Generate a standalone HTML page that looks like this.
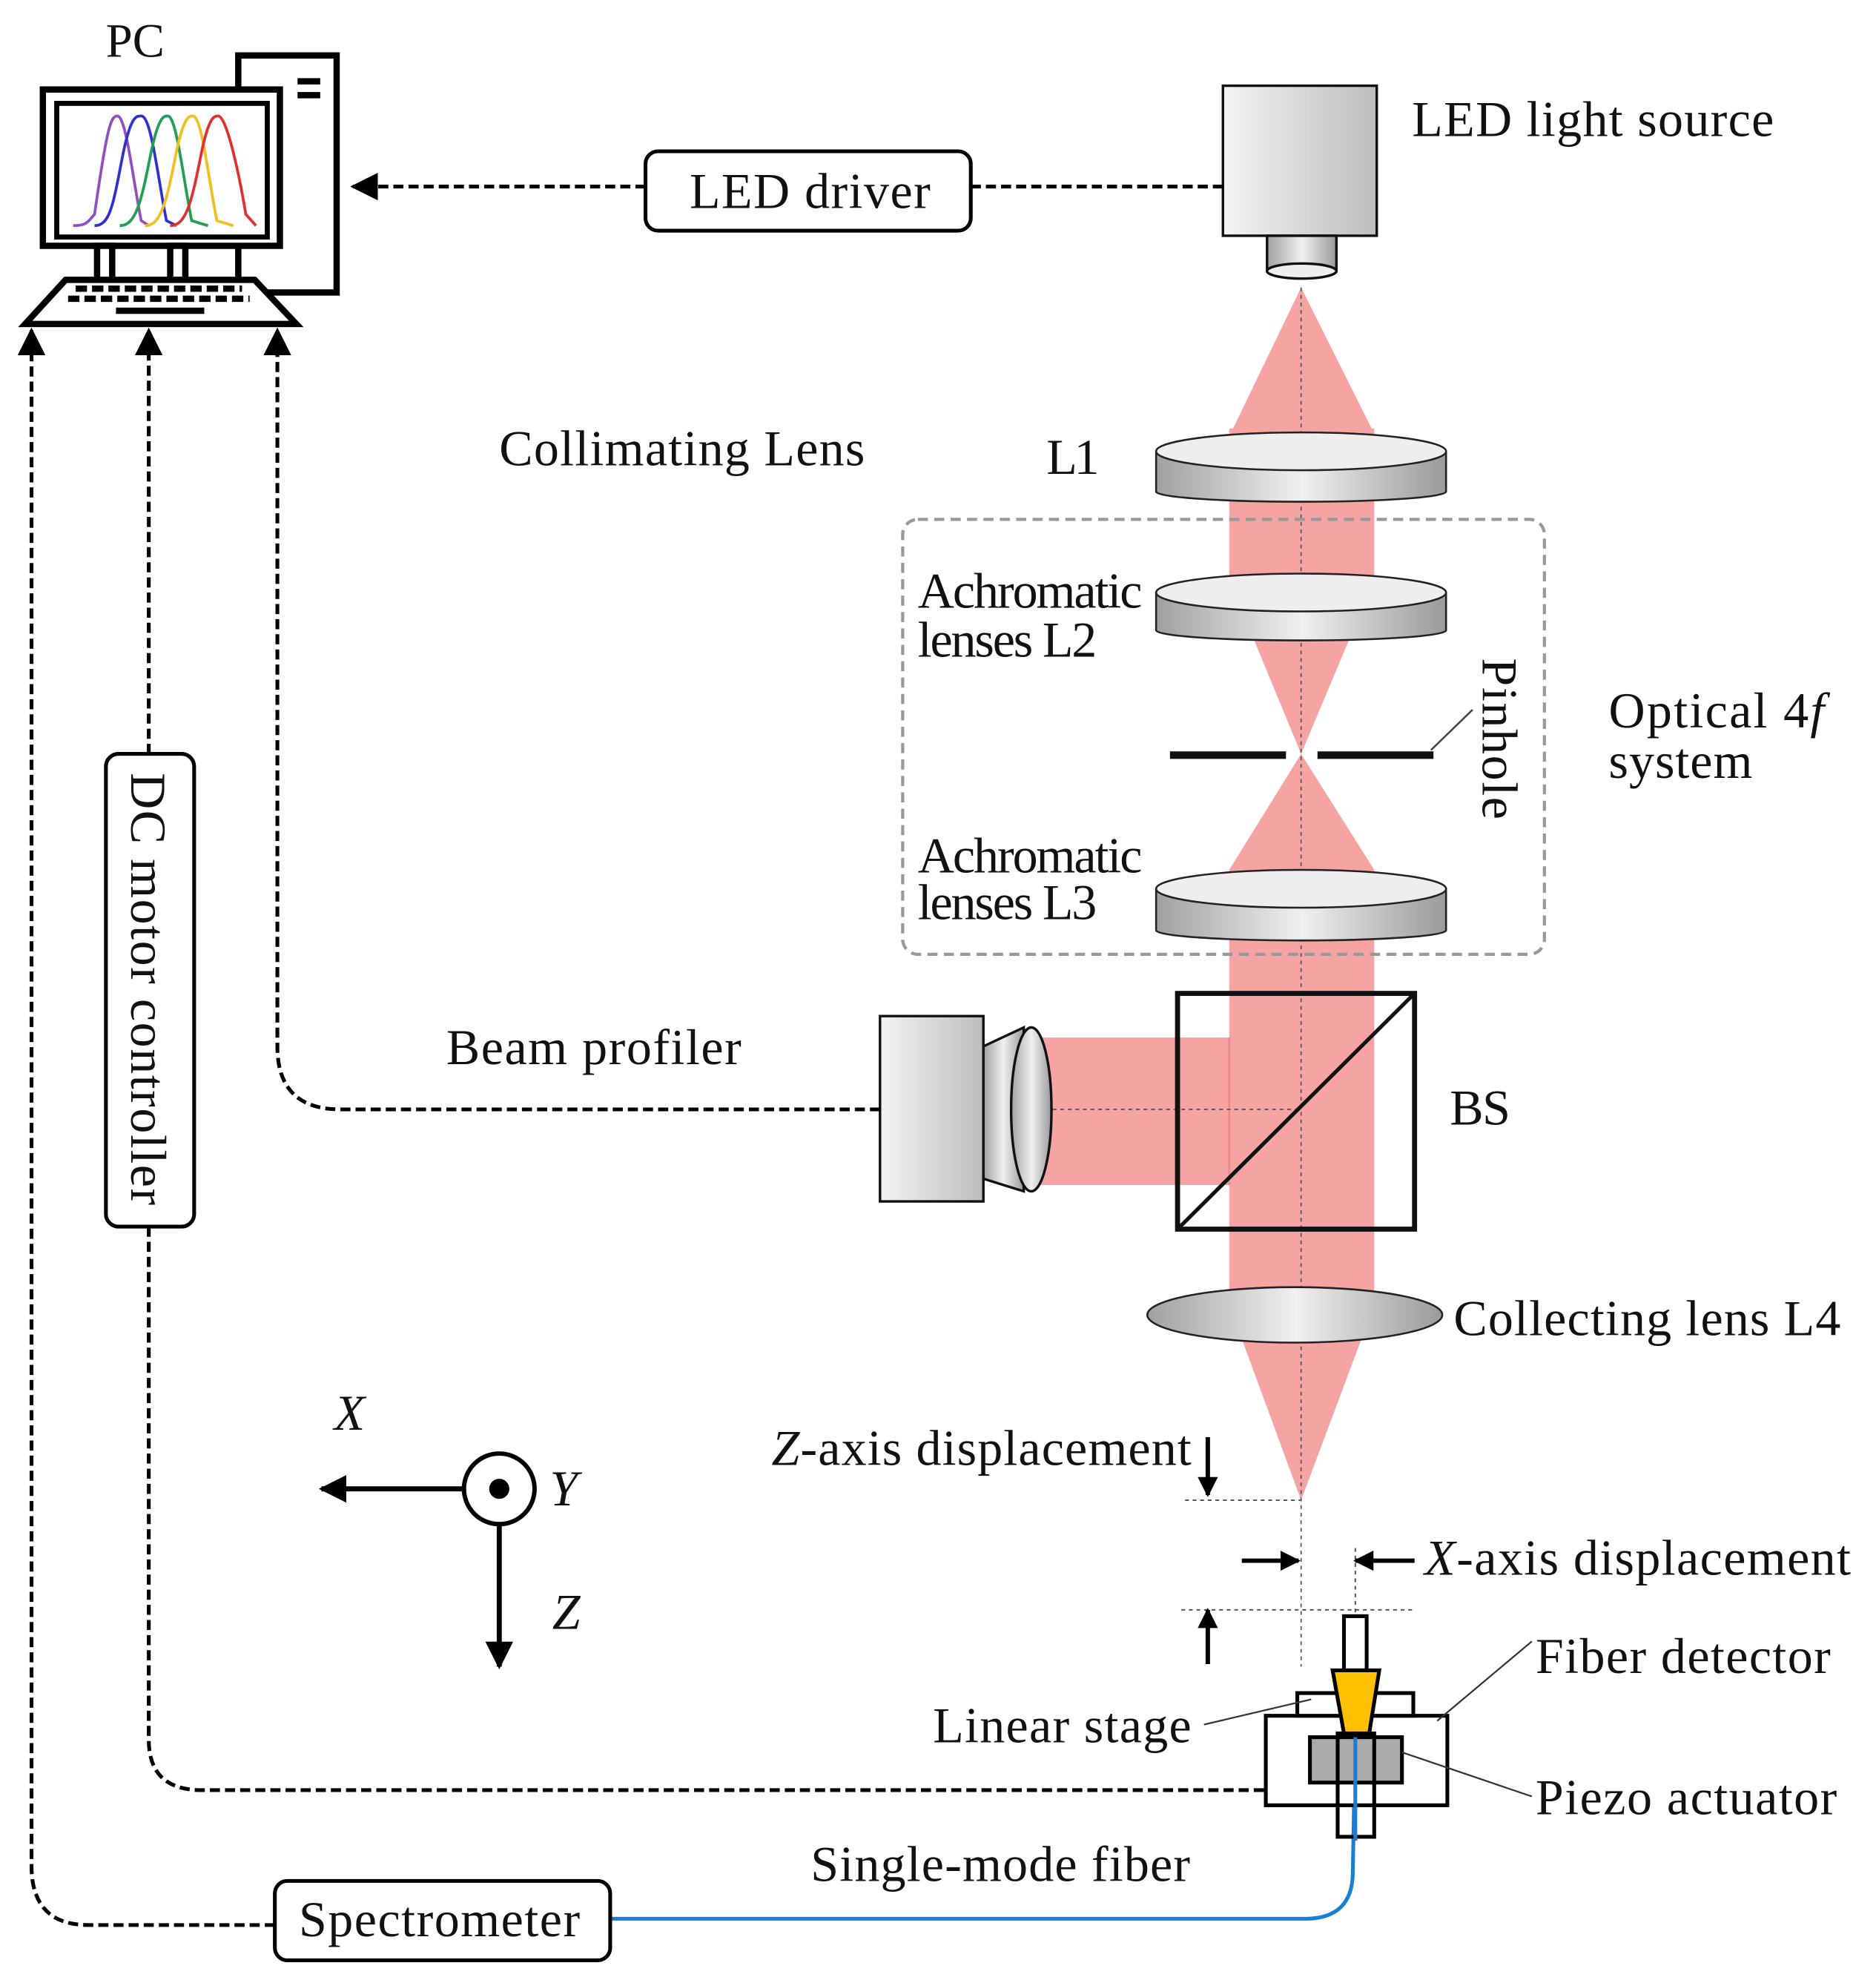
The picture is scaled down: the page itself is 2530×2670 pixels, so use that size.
<!DOCTYPE html>
<html><head><meta charset="utf-8"><style>html,body{margin:0;padding:0;background:#fff}svg{display:block}text{font-family:"Liberation Serif",serif;fill:#111}</style></head><body>
<svg width="2530" height="2670" viewBox="0 0 1488 1570.6" preserveAspectRatio="none" xmlns="http://www.w3.org/2000/svg">
<defs>
<linearGradient id="gg" x1="0" x2="1"><stop offset="0" stop-color="#f4f4f4"/><stop offset="1" stop-color="#bdbdbd"/></linearGradient>
<linearGradient id="gl" x1="0" x2="1"><stop offset="0" stop-color="#a0a0a0"/><stop offset="0.5" stop-color="#f0f0f0"/><stop offset="1" stop-color="#9a9a9a"/></linearGradient>
<marker id="ab" viewBox="0 0 10 10" refX="9" refY="5" markerWidth="22" markerHeight="22" orient="auto" markerUnits="userSpaceOnUse"><path d="M0,0 L10,5 L0,10z" fill="#000"/></marker>
<marker id="am" viewBox="0 0 10 10" refX="9" refY="5" markerWidth="16" markerHeight="16" orient="auto" markerUnits="userSpaceOnUse"><path d="M0,0 L10,5 L0,10z" fill="#000"/></marker>
</defs>
<g fill="#f5a3a3">
<polygon points="1032,228 978,340 1088,340"/>
<rect x="975" y="340" width="115" height="120"/>
<polygon points="975,460 1090,460 1032,598"/>
<polygon points="1032,598 975,690 1090,690"/>
<rect x="975" y="690" width="115" height="345"/>
<polygon points="975,1035 1090,1035 1032,1190"/>
<rect x="825" y="823" width="150" height="117"/>
</g>
<line x1="975" y1="823" x2="975" y2="940" stroke="#e88" stroke-width="1.5"/>
<line x1="1032" y1="228" x2="1032" y2="1322" stroke="#555" stroke-width="1" stroke-dasharray="3,3"/>
<line x1="835" y1="880" x2="1032" y2="880" stroke="#555" stroke-width="1" stroke-dasharray="3,3"/>
<rect x="970" y="68" width="122" height="119" fill="url(#gg)" stroke="#111" stroke-width="2"/>
<rect x="1005" y="187" width="55" height="28" fill="url(#gl)" stroke="#111" stroke-width="2"/>
<ellipse cx="1032.5" cy="215" rx="27.5" ry="6" fill="#eee" stroke="#111" stroke-width="2"/>
<g stroke="#222" stroke-width="1.5">
<path d="M917,358 L917,390 A115,8 0 0 0 1147,390 L1147,358z" fill="url(#gl)"/>
<ellipse cx="1032" cy="358" rx="115" ry="15" fill="#eee"/>
<path d="M917,470 L917,500 A115,8 0 0 0 1147,500 L1147,470z" fill="url(#gl)"/>
<ellipse cx="1032" cy="470" rx="115" ry="15" fill="#eee"/>
<path d="M917,705 L917,738 A115,8 0 0 0 1147,738 L1147,705z" fill="url(#gl)"/>
<ellipse cx="1032" cy="705" rx="115" ry="15" fill="#eee"/>
<ellipse cx="1027" cy="1043" rx="117" ry="22" fill="url(#gl)"/>
</g>
<rect x="716" y="412" width="509" height="345" rx="12" fill="none" stroke="#999" stroke-width="2.5" stroke-dasharray="8,5"/>
<line x1="928" y1="599" x2="1020" y2="599" stroke="#111" stroke-width="6"/>
<line x1="1045" y1="599" x2="1137" y2="599" stroke="#111" stroke-width="6"/>
<line x1="1135" y1="595" x2="1168" y2="563" stroke="#444" stroke-width="1.5"/>
<rect x="934" y="788" width="188" height="187" fill="none" stroke="#111" stroke-width="4"/>
<line x1="934" y1="975" x2="1122" y2="788" stroke="#111" stroke-width="3"/>
<rect x="698" y="806" width="82" height="147" fill="url(#gg)" stroke="#111" stroke-width="2"/>
<polygon points="780,830 812,815 812,945 780,935" fill="url(#gl)" stroke="#111" stroke-width="2"/>
<ellipse cx="818" cy="880" rx="16" ry="65" fill="url(#gl)" stroke="#111" stroke-width="2"/>
<g stroke="#000" stroke-width="5" fill="#fff">
<rect x="189" y="44" width="78" height="188"/>
<rect x="34" y="71" width="188" height="124"/>
<rect x="77" y="195" width="12" height="27"/><rect x="135" y="195" width="12" height="27"/>
<rect x="45" y="82" width="167" height="106" stroke-width="4"/>
<polygon points="52,222 202,222 235,257 20,257"/>
</g>
<rect x="236" y="62" width="18" height="5"/><rect x="236" y="73" width="18" height="5"/>
<g fill="none" stroke="#000" stroke-width="5" stroke-dasharray="9,4"><line x1="60" y1="229" x2="192" y2="229"/><line x1="54" y1="237" x2="198" y2="237"/></g>
<rect x="92" y="244" width="70" height="5" fill="#000"/>
<g fill="none" stroke-width="2.2">
<path d="M58,179 C70,179 70,175 75,170 C85,100 88,92 93,92 C100,92 105,140 112,175 L118,179" stroke="#9050c0"/>
<path d="M75,179 C88,179 90,160 98,120 C104,92 108,92 112,92 C120,92 125,140 132,175 L140,179" stroke="#3030d0"/>
<path d="M95,179 C108,179 112,160 120,120 C126,92 130,92 133,92 C140,92 145,140 152,175 L165,179" stroke="#20a050"/>
<path d="M115,179 C128,179 132,160 140,120 C146,92 150,92 153,92 C160,92 165,140 172,175 L185,179" stroke="#f0c020"/>
<path d="M135,179 C148,179 152,160 160,120 C166,92 170,92 173,92 C180,92 190,140 195,170 L203,179" stroke="#e03030"/>
</g>
<g fill="none" stroke="#000" stroke-width="3" stroke-dasharray="8,4">
<line x1="970" y1="148" x2="770" y2="148"/>
<line x1="512" y1="148" x2="280" y2="148" marker-end="url(#ab)"/>
<path d="M698,880 L270,880 Q220,880 220,830 L220,262" marker-end="url(#ab)"/>
<line x1="118" y1="598" x2="118" y2="262" marker-end="url(#ab)"/>
<path d="M118,973 L118,1380 Q118,1420 160,1420 L1045,1420"/>
<path d="M218,1527 L70,1527 Q25,1527 25,1480 L25,262" marker-end="url(#ab)"/>
</g>
<path d="M484,1522 L1035,1522 Q1073,1522 1073,1485 L1075,1378" fill="none" stroke="#1a7fd4" stroke-width="3"/>
<g fill="#fff" stroke="#000" stroke-width="3">
<rect x="512" y="120" width="258" height="63" rx="10"/>
<rect x="84" y="598" width="70" height="375" rx="10"/>
<rect x="218" y="1492" width="266" height="63" rx="10"/>
</g>
<circle cx="396" cy="1181" r="28" fill="#fff" stroke="#000" stroke-width="3.5"/>
<circle cx="396" cy="1181" r="8" fill="#000"/>
<line x1="368" y1="1181" x2="255" y2="1181" stroke="#000" stroke-width="4" marker-end="url(#ab)"/>
<line x1="396" y1="1209" x2="396" y2="1322" stroke="#000" stroke-width="4" marker-end="url(#ab)"/>
<g stroke="#555" stroke-width="1.2" stroke-dasharray="3,3" fill="none">
<line x1="940" y1="1190" x2="1032" y2="1190"/>
<line x1="937" y1="1277" x2="1122" y2="1277"/>
<line x1="1075" y1="1228" x2="1075" y2="1282"/>
</g>
<g stroke="#000" stroke-width="3.5">
<line x1="958" y1="1140" x2="958" y2="1186" marker-end="url(#am)"/>
<line x1="958" y1="1320" x2="958" y2="1277" marker-end="url(#am)"/>
<line x1="985" y1="1238" x2="1030" y2="1238" marker-end="url(#am)"/>
<line x1="1122" y1="1238" x2="1075" y2="1238" marker-end="url(#am)"/>
</g>
<g stroke="#000" stroke-width="3">
<rect x="1004" y="1361" width="144" height="71" fill="#fff"/>
<rect x="1029" y="1343" width="92" height="18" fill="#fff"/>
<rect x="1066" y="1282" width="18" height="43" fill="#fff"/>
<rect x="1039" y="1378" width="73" height="36" fill="#aaa"/>
<rect x="1061" y="1375" width="29" height="82" fill="none"/>
<polygon points="1057,1325 1094,1325 1086,1375 1066,1375" fill="#ffc000"/>
</g>
<line x1="1075" y1="1378" x2="1075" y2="1460" stroke="#1a7fd4" stroke-width="3"/>
<g stroke="#333" stroke-width="1.3">
<line x1="1215" y1="1302" x2="1140" y2="1365"/>
<line x1="955" y1="1368" x2="1040" y2="1348"/>
<line x1="1112" y1="1390" x2="1215" y2="1425"/>
</g>
<g font-size="40" lengthAdjust="spacingAndGlyphs">
<text x="84" y="45" font-size="38">PC</text>
<text x="547" y="165" textLength="191">LED driver</text>
<text x="1120" y="108" textLength="287">LED light source</text>
<text x="396" y="369" textLength="290">Collimating Lens</text>
<text x="830" y="376" textLength="42">L1</text>
<text x="728" y="482" textLength="178">Achromatic</text>
<text x="728" y="521" textLength="142">lenses L2</text>
<text x="728" y="692" textLength="178">Achromatic</text>
<text x="728" y="729" textLength="142">lenses L3</text>
<text x="1276" y="577" textLength="171">Optical 4<tspan font-style="italic">f</tspan></text>
<text x="1276" y="617" textLength="114">system</text>
<text transform="translate(1176,522) rotate(90)" textLength="128">Pinhole</text>
<text x="354" y="844" textLength="234">Beam profiler</text>
<text x="1150" y="892" textLength="48">BS</text>
<text transform="translate(104,613) rotate(90)" textLength="343">DC motor controller</text>
<text x="1153" y="1059" textLength="307">Collecting lens L4</text>
<text x="265" y="1134" font-style="italic">X</text>
<text x="436" y="1194" font-style="italic">Y</text>
<text x="438" y="1292" font-style="italic">Z</text>
<text x="612" y="1162" textLength="333"><tspan font-style="italic">Z</tspan>-axis displacement</text>
<text x="1130" y="1249" textLength="338"><tspan font-style="italic">X</tspan>-axis displacement</text>
<text x="1218" y="1327" textLength="234">Fiber detector</text>
<text x="740" y="1382" textLength="205">Linear stage</text>
<text x="1218" y="1439" textLength="239">Piezo actuator</text>
<text x="643" y="1492" textLength="301">Single-mode fiber</text>
<text x="237" y="1536" textLength="223">Spectrometer</text>
</g>
</svg>
</body></html>
